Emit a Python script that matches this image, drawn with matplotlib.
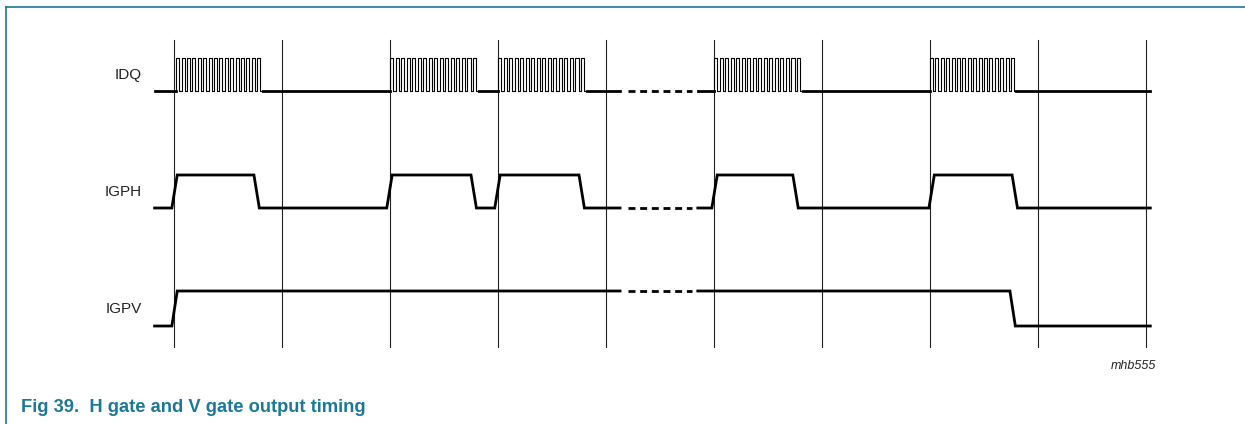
import numpy as np
import matplotlib
matplotlib.use("Agg")
import matplotlib.pyplot as plt

plt.rcParams['font.family'] = ['Liberation Sans', 'DejaVu Sans']

# time axis: one unit per grid division
grid_times = [0, 1, 2, 3, 4, 5, 6, 7, 8, 9]
t_start = -0.18
t_end = 9.04
break_solid = (4.13, 4.85)   # solid ends / solid resumes around the break
break_dash = (4.20, 4.80)

# IDQ bursts (start, end) and pulses per burst
idq_bursts = [(0.02, 0.82), (2.0, 2.82), (3.0, 3.82), (5.0, 5.82), (7.0, 7.8)]
idq_pulses = 16

# IGPH rising / falling edges
igph_rise = [-0.02, 1.97, 2.97, 4.98, 6.99]
igph_fall = [0.74, 2.75, 3.75, 5.73, 7.76]

# IGPV edges
igpv_rise = [-0.02]
igpv_fall = [7.74]

signal_names = ["IDQ", "IGPH", "IGPV"]

# layout (pixel rows)
rows = {"IDQ": (91, 58), "IGPH": (208, 175), "IGPV": (326, 291)}
label_y = {"IDQ": 75, "IGPH": 192, "IGPV": 309}
edge = 0.05
teal = '#1b7898'

px0, pxu = 174, 108
def t2x(px):
    return (px - px0) / pxu

fig = plt.figure(figsize=(12.45, 4.24), dpi=100)
ax = fig.add_axes([0, 0, 1, 1])
ax.set_xlim(t2x(0), t2x(1245))
ax.set_ylim(424, 0)
ax.axis('off')

# grid
for g in grid_times:
    ax.plot([g, g], [40, 347], color='#222222', lw=0.8, zorder=1)


def gate_wave(rises, falls, lo, hi):
    xs = [t_start]
    ys = [lo]
    events = sorted([(r, 'r') for r in rises] + [(f, 'f') for f in falls])
    for t, kind in events:
        if kind == 'r':
            xs += [t, t + edge]
            ys += [lo, hi]
        else:
            xs += [t, t + edge]
            ys += [hi, lo]
    xs.append(t_end)
    ys.append(ys[-1])
    return np.array(xs), np.array(ys)


def draw_with_break(xs, ys, lw=2.0, color='black'):
    # split line at the break: solid left part, dashed middle, solid right part
    lo_t, hi_t = break_solid
    left = xs <= lo_t
    right = xs >= hi_t
    yl = np.interp(lo_t, xs, ys)
    yr = np.interp(hi_t, xs, ys)
    ax.plot(np.r_[xs[left], lo_t], np.r_[ys[left], yl], color=color, lw=lw,
            solid_joinstyle='miter', zorder=3)
    ax.plot(np.r_[hi_t, xs[right]], np.r_[yr, ys[right]], color=color, lw=lw,
            solid_joinstyle='miter', zorder=3)
    ax.plot(list(break_dash), [yl, yl], color=color, lw=lw,
            dashes=(2.5, 1.7), dash_capstyle='butt', zorder=3)


# IDQ pulse trains
lo, hi = rows["IDQ"]
xs = [t_start]
ys = [lo]
for a, b in idq_bursts:
    p = (b - a) / idq_pulses
    for k in range(idq_pulses):
        s = a + k * p
        xs += [s, s, s + p * 0.55, s + p * 0.55]
        ys += [lo, hi, hi, lo]
    xs += [b]
    ys += [lo]
xs.append(t_end)
ys.append(lo)
xs = np.array(xs)
ys = np.array(ys)
# thin pulses, thick baseline
lo_t, hi_t = break_solid
for a, b in idq_bursts:
    m = (xs >= a) & (xs <= b)
    ax.plot(xs[m], ys[m], color='black', lw=0.8, zorder=3)
base_x = [t_start] + [v for ab in idq_bursts for v in ab] + [t_end]
for i in range(0, len(base_x), 2):
    x0, x1 = base_x[i], base_x[i + 1]
    if x0 < lo_t < x1:
        ax.plot([x0, lo_t], [lo, lo], color='black', lw=2.0, zorder=3)
        ax.plot([hi_t, x1], [lo, lo], color='black', lw=2.0, zorder=3)
        ax.plot(list(break_dash), [lo, lo], color='black', lw=2.0,
                dashes=(2.5, 1.7), dash_capstyle='butt', zorder=3)
    else:
        ax.plot([x0, x1], [lo, lo], color='black', lw=2.0, zorder=3)

# IGPH and IGPV
gx, gy = gate_wave(igph_rise, igph_fall, *rows["IGPH"])
draw_with_break(gx, gy)
vx, vy = gate_wave(igpv_rise, igpv_fall, *rows["IGPV"])
draw_with_break(vx, vy)

# labels
for name in signal_names:
    ax.text(t2x(142), label_y[name], name, ha='right', va='center',
            fontsize=11, color='#222222')

ax.text(t2x(1156), 366, "mhb555", ha='right', va='center', fontsize=9,
        style='italic', color='#222222')

# border and caption
ax.plot([t2x(5.5), t2x(1245)], [7, 7], color=teal, lw=1.2)
ax.plot([t2x(5.5), t2x(5.5)], [7, 424], color=teal, lw=1.2)
ax.text(t2x(21), 407, "Fig 39.  H gate and V gate output timing", ha='left',
        va='center', fontsize=13.2, fontweight='bold', color=teal)

fig.savefig('out.png', dpi=100)
